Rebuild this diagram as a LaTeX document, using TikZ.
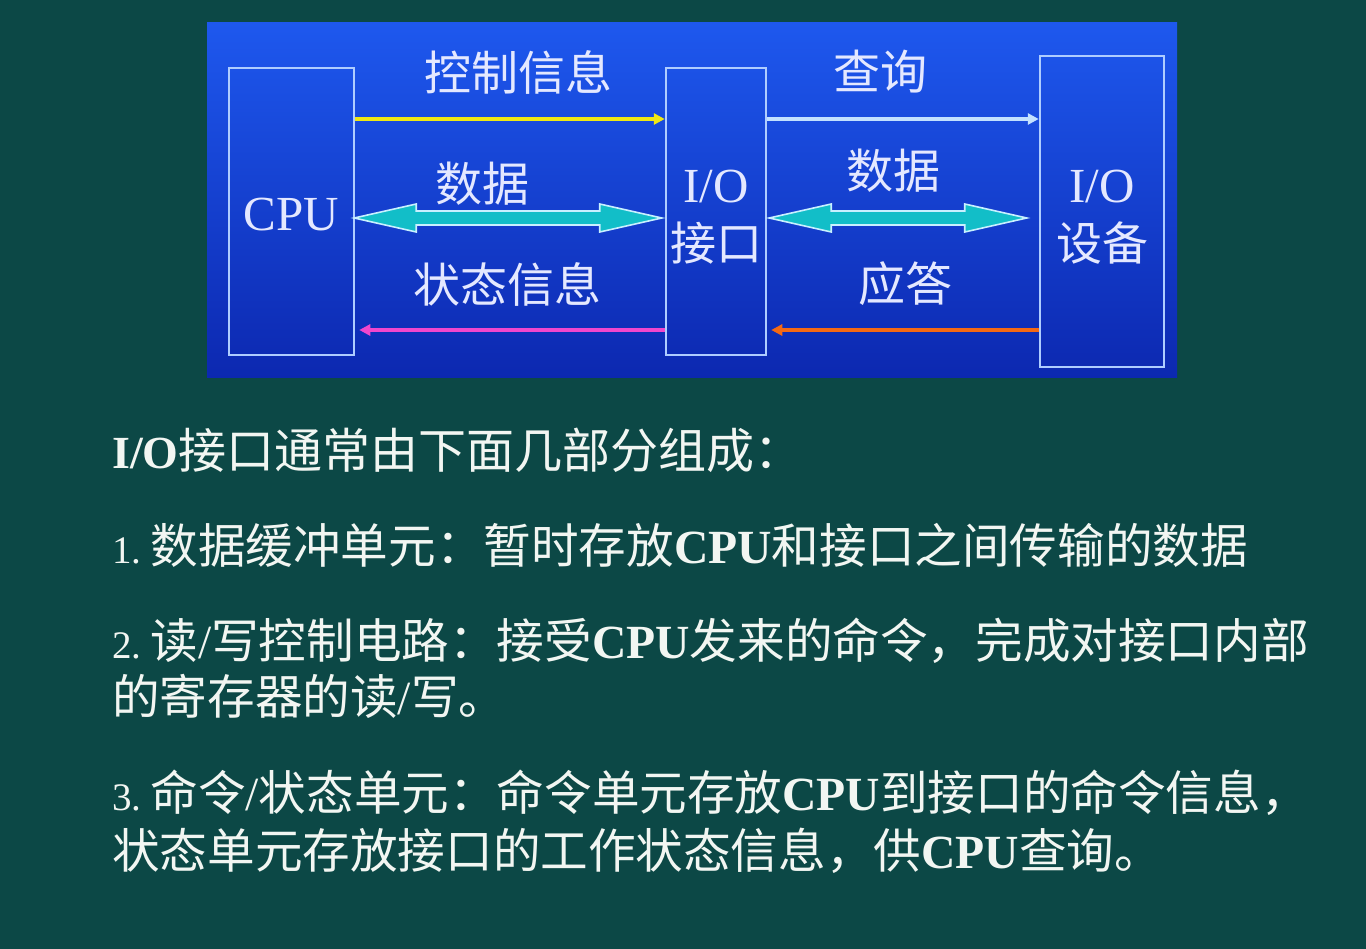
\documentclass[tikz,border=0pt]{standalone}
\usepackage{fontspec}
\setmainfont{Liberation Serif}
\newfontfamily\cjk{Noto Sans CJK SC}
\usetikzlibrary{calc,arrows.meta}

\definecolor{bg}{RGB}{12,72,70}
\definecolor{panelTop}{RGB}{30,88,238}
\definecolor{panelBot}{RGB}{12,40,176}
\definecolor{boxline}{RGB}{175,205,255}
\definecolor{lbl}{RGB}{228,232,255}
\definecolor{txt}{RGB}{242,246,242}
\definecolor{ctrl}{RGB}{240,232,20}
\definecolor{query}{RGB}{195,225,255}
\definecolor{stat}{RGB}{240,70,205}
\definecolor{resp}{RGB}{245,105,20}
\definecolor{dataFill}{RGB}{18,190,200}
\definecolor{dataEdge}{RGB}{200,240,255}

\tikzset{
  box/.style={draw=boxline, line width=2.5pt, inner sep=0pt},
  caption/.style={text=lbl, inner sep=0pt, align=center,
                  font=\fontsize{49}{58}\selectfont},
  lab/.style={text=lbl, inner sep=0pt, font=\cjk\fontsize{47}{50}\selectfont},
  sig/.style={line width=4pt, -{Triangle[length=11pt,width=11pt]}},
  dataarrow/.style={fill=dataFill, draw=dataEdge, line width=1.6pt, line join=miter},
  para/.style={text=txt, inner sep=0pt, anchor=base west,
               font=\fontsize{47.6}{52}\selectfont},
}

% double-headed data arrow between two tip points on one level
\newcommand\dataArrow[2]{%
  \path[dataarrow] #1 -- ++(62,-14) -- ++(0,7) -- ($#2+(-62,-7)$) -- ++(0,-7)
    -- #2 -- ++(-62,14) -- ++(0,-7) -- ($#1+(62,7)$) -- ++(0,7) -- cycle;}
\newcommand\num[1]{{\fontsize{39}{40}\selectfont #1}\hspace{9pt}}

\begin{document}
\begin{tikzpicture}[x=1pt,y=-1pt]
\useasboundingbox (0,0) rectangle (1366,949);
\fill[bg] (0,0) rectangle (1366,949);

% blue panel
\shade[top color=panelTop, bottom color=panelBot] (207,23) rectangle (1177,378);

% units
\node[box, minimum width=125, minimum height=287] (cpu) at (291.5,211.5) {};
\node[box, minimum width=100, minimum height=287] (ioif) at (716,211.5) {};
\node[box, minimum width=124, minimum height=311] (dev) at (1102,211.5) {};
\node[caption] (cputxt) at ($(cpu.center)+(0,3)$) {CPU};
\node[caption] (ioiftxt) at ($(ioif.center)+(0,5.5)$) {I/O\\{\cjk\fontsize{46}{58}\selectfont 接口}};
\node[caption] (devtxt) at ($(dev.center)+(0,5.5)$) {I/O\\{\cjk\fontsize{46}{58}\selectfont 设备}};

% signal arrows
\draw[sig, ctrl]  (cpu.east |- 0,119) -- (ioif.west |- 0,119);
\draw[sig, stat]  (ioif.west |- 0,330) -- ($(cpu.east |- 0,330)+(4,0)$);
\draw[sig, query] (ioif.east |- 0,119) -- (dev.west |- 0,119);
\draw[sig, resp]  (dev.west |- 0,330) -- ($(ioif.east |- 0,330)+(4,0)$);

% data paths
\coordinate (d1a) at ($(cpu.east |- 0,218)+(-1,0)$);
\coordinate (d1b) at ($(ioif.west |- 0,218)+(-3,0)$);
\coordinate (d2a) at ($(ioif.east |- 0,218)+(2,0)$);
\coordinate (d2b) at ($(dev.west |- 0,218)+(-12,0)$);
\dataArrow{(d1a)}{(d1b)}
\dataArrow{(d2a)}{(d2b)}

% labels
\node[lab] (tctrl) at (518,72) {控制信息};
\node[lab] (tdata1) at (482,184) {数据};
\node[lab] (tstat) at (507,284) {状态信息};
\node[lab] (tquery) at (880,72) {查询};
\node[lab] (tdata2) at (893,171) {数据};
\node[lab] (tresp) at (905,284) {应答};

% description
\node[para] (head) at (112,468) {{\fontsize{46}{48}\selectfont\bfseries I/O}{\cjk\fontsize{48}{52}\selectfont 接口通常由下面几部分组成：}};
\node[para] (p1) at (112,563) {\num{1.}{\cjk 数据缓冲单元：暂时存放}\textbf{CPU}{\cjk 和接口之间传输的数据}};
\node[para] (p2) at (112,658) {\num{2.}{\cjk 读}/{\cjk 写控制电路：接受}\textbf{CPU}{\cjk 发来的命令，完成对接口内部}};
\node[para] (p2b) at (112,714) {{\cjk 的寄存器的读}/{\cjk 写。}};
\node[para] (p3) at (112,810) {\num{3.}{\cjk 命令}/{\cjk 状态单元：命令单元存放}\textbf{CPU}{\cjk 到接口的命令信息，}};
\node[para] (p3b) at (112,868) {{\cjk 状态单元存放接口的工作状态信息，供}\textbf{CPU}{\cjk 查询。}};
\end{tikzpicture}
\end{document}
